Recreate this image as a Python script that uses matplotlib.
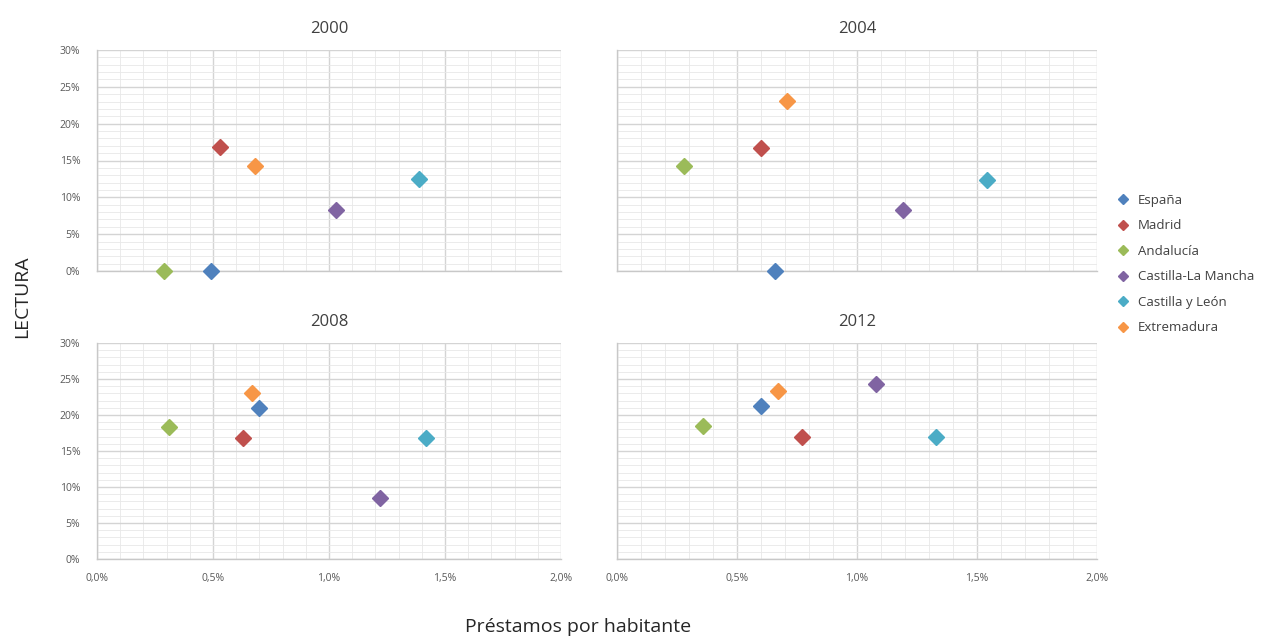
import numpy as np
import matplotlib.pyplot as plt
from matplotlib.ticker import FuncFormatter, MultipleLocator

plt.rcParams['font.family'] = ['Open Sans', 'DejaVu Sans']

regions = ['España', 'Madrid', 'Andalucía', 'Castilla-La Mancha', 'Castilla y León', 'Extremadura']
colors = ['#4F81BD', '#C0504D', '#9BBB59', '#8064A2', '#4BACC6', '#F79646']
years = ['2000', '2004', '2008', '2012']

# prestamos por habitante (%), lectura (%)
prestamos_2000 = [0.49, 0.53, 0.29, 1.03, 1.39, 0.68]
lectura_2000 = [0.0, 16.8, 0.0, 8.3, 12.5, 14.3]
prestamos_2004 = [0.66, 0.60, 0.28, 1.19, 1.54, 0.71]
lectura_2004 = [0.0, 16.7, 14.3, 8.3, 12.4, 23.1]
prestamos_2008 = [0.70, 0.63, 0.31, 1.22, 1.42, 0.67]
lectura_2008 = [21.0, 16.8, 18.3, 8.5, 16.8, 23.1]
prestamos_2012 = [0.60, 0.77, 0.36, 1.08, 1.33, 0.67]
lectura_2012 = [21.2, 17.0, 18.5, 24.3, 17.0, 23.4]

xs = [prestamos_2000, prestamos_2004, prestamos_2008, prestamos_2012]
ys = [lectura_2000, lectura_2004, lectura_2008, lectura_2012]

W, H = 1266, 639
fig = plt.figure(figsize=(W / 100, H / 100), dpi=100)

# left, top, right, bottom in pixels
boxes = [(97, 50, 561, 271), (617, 50, 1097, 271),
         (97, 343, 561, 559), (617, 343, 1097, 559)]

axes = []
for i, (l, t, r, b) in enumerate(boxes):
    ax = fig.add_axes([l / W, (H - b) / H, (r - l) / W, (b - t) / H])
    ax.set_xlim(0, 2.0)
    ax.set_ylim(0, 30)
    ax.xaxis.set_major_locator(MultipleLocator(0.5))
    ax.xaxis.set_minor_locator(MultipleLocator(0.1))
    ax.yaxis.set_major_locator(MultipleLocator(5))
    ax.yaxis.set_minor_locator(MultipleLocator(1))
    ax.grid(which='major', color='#d4d4d4', lw=1.0)
    ax.grid(which='minor', color='#e8e8e8', lw=0.6)
    ax.set_axisbelow(True)
    for s in ['top', 'right']:
        ax.spines[s].set_visible(False)
    for s in ['left', 'bottom']:
        ax.spines[s].set_color('#c8c8c8')
        ax.spines[s].set_linewidth(1.0)
    ax.tick_params(which='both', length=0, labelsize=7.5, colors='#595959')
    ax.tick_params(axis='x', pad=10)
    ax.tick_params(axis='y', pad=12)
    ax.xaxis.set_major_formatter(FuncFormatter(lambda v, p: f'{v:.1f}%'.replace('.', ',')))
    ax.yaxis.set_major_formatter(FuncFormatter(lambda v, p: f'{v:.0f}%'))
    if i < 2:
        ax.tick_params(labelbottom=False)
    if i % 2 == 1:
        ax.tick_params(labelleft=False)
    ax.set_title(years[i], fontsize=12, color='#404040', pad=12)
    for k, name in enumerate(regions):
        ax.plot(xs[i][k], ys[i][k], 'D', color=colors[k], markersize=8.5,
                markeredgecolor=colors[k], clip_on=False, label=name, zorder=3)
    axes.append(ax)

handles, labels = axes[0].get_legend_handles_labels()
leg = fig.legend(handles, labels, loc='center left', bbox_to_anchor=(1105 / W, (H - 264) / H),
                 frameon=False, fontsize=9.5, handlelength=1.0, handletextpad=0.6,
                 labelspacing=0.95, markerscale=0.65)
for t in leg.get_texts():
    t.set_color('#404040')

fig.text(22 / W, (H - 297) / H, 'LECTURA', rotation=90, ha='center', va='center',
         fontsize=14, color='#262626')
fig.text(578 / W, (H - 627) / H, 'Préstamos por habitante', ha='center', va='center',
         fontsize=14, color='#262626')

fig.savefig('out.png', dpi=100)
